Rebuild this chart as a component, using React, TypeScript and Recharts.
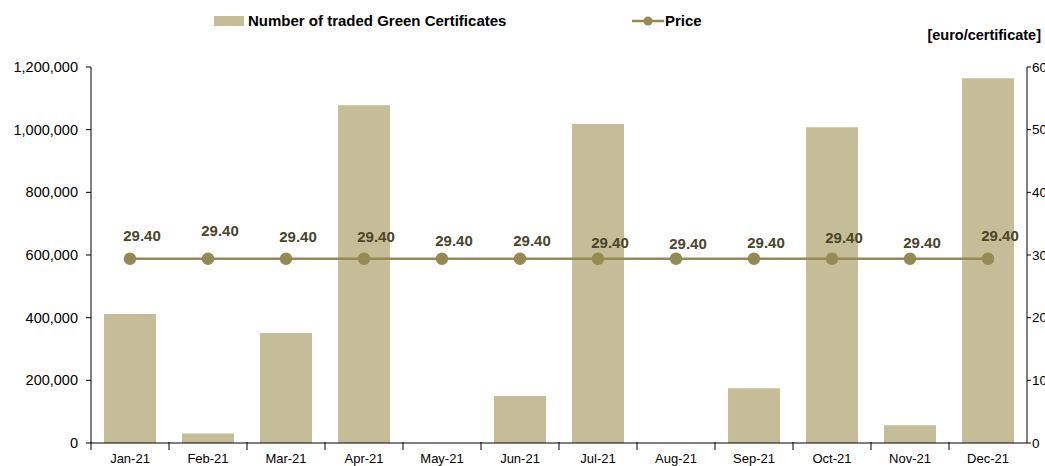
import React from 'react';
import {
  ComposedChart,
  Bar,
  Line,
  XAxis,
  YAxis,
  LabelList,
} from 'recharts';

const months = ['Jan-21', 'Feb-21', 'Mar-21', 'Apr-21', 'May-21', 'Jun-21', 'Jul-21', 'Aug-21', 'Sep-21', 'Oct-21', 'Nov-21', 'Dec-21'];
const traded = [412000, 30000, 351000, 1078000, 0, 150000, 1018000, 0, 175000, 1008000, 57000, 1164000];
const price = [29.4, 29.4, 29.4, 29.4, 29.4, 29.4, 29.4, 29.4, 29.4, 29.4, 29.4, 29.4];
const leftTicks = [0, 200000, 400000, 600000, 800000, 1000000, 1200000];
const rightTicks = [0, 10, 20, 30, 40, 50, 60];
// how far each price label sits above its point (px)
const labelLift = [18, 23, 17, 17, 13, 13, 11, 10, 11, 16, 11, 18];

const data = months.map((m, i) => ({ month: m, traded: traded[i], price: price[i] }));

const BAR = '#C4BD97';
const LINE = '#948A54';
const FONT = 'Liberation Sans, Arial, sans-serif';

const MonthTick = (props: any) => {
  const { x, y, payload } = props;
  const half = 39;
  return (
    <g>
      <line x1={x - half} x2={x - half} y1={y - 9} y2={y - 1} stroke="#000" strokeWidth={1} />
      <text x={x} y={y + 12} textAnchor="middle" fontSize={13} fontFamily={FONT} fill="#000">
        {payload.value}
      </text>
    </g>
  );
};

const PriceLabel = (props: any) => {
  const { x, y, value, index } = props;
  return (
    <text
      x={x + 12}
      y={y - labelLift[index]}
      textAnchor="middle"
      fontSize={15}
      fontWeight="bold"
      fontFamily={FONT}
      fill="#4A452A"
    >
      {Number(value).toFixed(2)}
    </text>
  );
};

const LegendBox = () => (
  <div style={{ position: 'relative', height: 30, fontFamily: FONT, fontSize: 15, fontWeight: 'bold', color: '#000' }}>
    <div style={{ position: 'absolute', left: 214, top: 16, width: 30, height: 10, background: BAR }} />
    <div style={{ position: 'absolute', left: 248, top: 12 }}>Number of traded Green Certificates</div>
    <svg style={{ position: 'absolute', left: 632, top: 14 }} width={32} height={14}>
      <line x1={0} x2={32} y1={7} y2={7} stroke={LINE} strokeWidth={2.5} />
      <circle cx={16} cy={7} r={4.5} fill={LINE} />
    </svg>
    <div style={{ position: 'absolute', left: 665, top: 12 }}>Price</div>
  </div>
);

export default function App() {
  return (
    <div style={{ position: 'absolute', left: 0, top: 0, width: 1045, height: 466, background: '#fff' }}>
      <div
        style={{
          position: 'absolute',
          right: 4,
          top: 27,
          fontFamily: FONT,
          fontSize: 14.5,
          fontWeight: 'bold',
          color: '#000',
          zIndex: 2,
        }}
      >
        [euro/certificate]
      </div>
      <div style={{ position: 'absolute', left: 0, top: 0, zIndex: 2, width: 1045 }}>
        <LegendBox />
      </div>
      <ComposedChart
        width={1045}
        height={466}
        data={data}
        margin={{ top: 67, right: 0, left: 0, bottom: 0 }}
        barCategoryGap="16.7%"
      >
        <XAxis
          dataKey="month"
          height={23}
          tick={<MonthTick />}
          tickLine={false}
          interval={0}
          axisLine={{ stroke: '#000' }}
        />
        <YAxis
          yAxisId="left"
          width={91}
          domain={[0, 1200000]}
          ticks={leftTicks}
          tickFormatter={(v: number) => v.toLocaleString('en-US')}
          tick={{ fontSize: 14.5, fontFamily: FONT, fill: '#000' }}
          tickLine={{ stroke: '#000' }}
          tickSize={5}
          tickMargin={8}
          axisLine={{ stroke: '#000' }}
          interval={0}
        />
        <YAxis
          yAxisId="right"
          orientation="right"
          width={18}
          domain={[0, 60]}
          ticks={rightTicks}
          tick={{ fontSize: 13.5, fontFamily: FONT, fill: '#000' }}
          tickLine={{ stroke: '#000' }}
          tickSize={4}
          tickMargin={1}
          axisLine={{ stroke: '#000' }}
          interval={0}
        />
        <Bar yAxisId="left" dataKey="traded" fill={BAR} isAnimationActive={false} />
        <Line
          yAxisId="right"
          dataKey="price"
          stroke={LINE}
          strokeWidth={2.5}
          dot={{ r: 5, fill: LINE, stroke: LINE }}
          isAnimationActive={false}
        >
          <LabelList dataKey="price" content={<PriceLabel />} />
        </Line>
      </ComposedChart>
    </div>
  );
}
